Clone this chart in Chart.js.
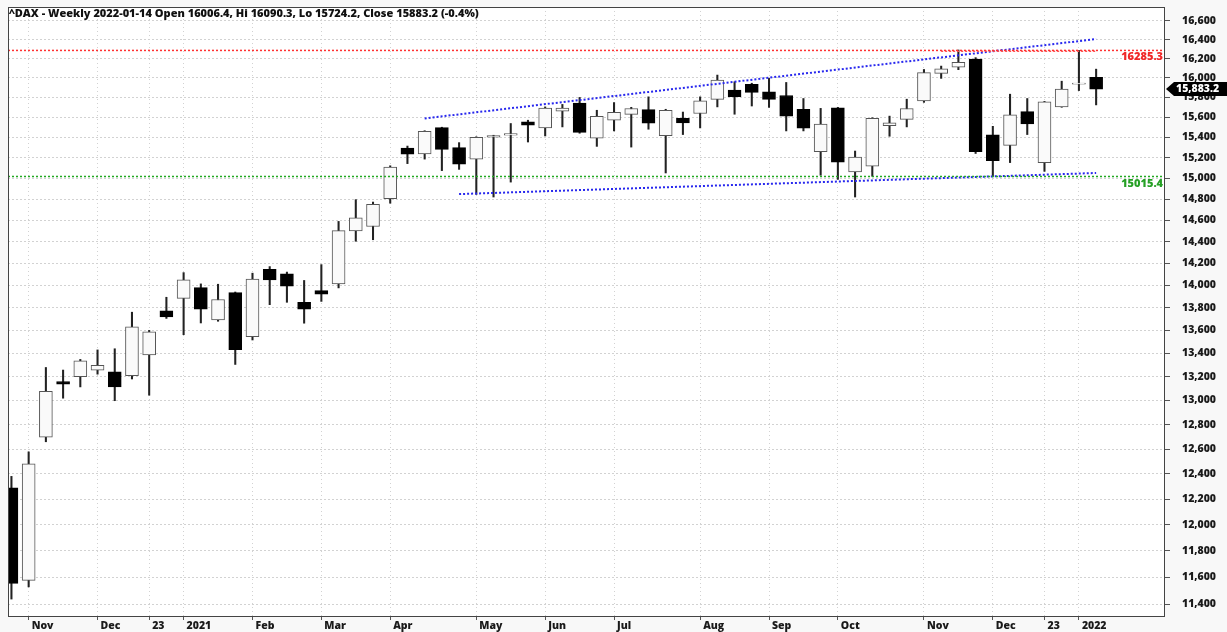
<!DOCTYPE html>
<html><head><meta charset="utf-8">
<script src="https://cdn.jsdelivr.net/npm/chart.js@4.4.0/dist/chart.umd.min.js"></script>
<style>html,body{margin:0;padding:0;background:#f8f8f8;overflow:hidden}</style>
</head><body>
<canvas id="c" width="1227" height="632"></canvas>
<script>
const titleText = '^DAX - Weekly 2022-01-14 Open 16006.4, Hi 16090.3, Lo 15724.2, Close 15883.2 (-0.4%)';

// weekly candles, Oct 30 2020 .. Jan 14 2022
const opens  = [12290,11578,12696,13159,13201,13257,13242,13209,13386,13773,13883,13979,13692,13934,13545,14145,14104,13848,13953,14013,14500,14540,14803,15292,15236,15496,15298,15185,15400,15420,15553,15493,15661,15742,15390,15570,15628,15677,15416,15588,15637,15780,15875,15933,15856,15820,15680,15259,15694,15060,15115,15516,15578,15765,16046,16112,16195,15423,15320,15657,15151,15704,15935,16006.4];
const highs  = [12380,12577,13279,13257,13348,13430,13440,13760,13600,13893,14115,14013,14010,13940,14110,14170,14120,14044,14188,14588,14794,14771,15120,15313,15465,15500,15347,15405,15420,15537,15570,15704,15729,15800,15670,15748,15700,15806,15680,15652,15806,16029,15960,15945,15995,15953,15789,15689,15700,15264,15595,15611,15782,16087,16122,16290,16210,15509,15833,15789,15760,15966,16285.3,16090.3];
const lows   = [11440,11530,12659,13019,13114,13222,12998,13181,13044,13705,13562,13665,13680,13305,13516,13827,13848,13663,13856,13977,14403,14417,14760,15141,15185,15073,15085,14844,14819,14962,15353,15413,15503,15440,15310,15463,15303,15480,15050,15427,15493,15704,15630,15713,15699,15463,15463,15028,14988,14819,15018,15410,15503,15750,15995,16085,15240,15020,15151,15427,15066,15700,15870,15724.2];
const closes = [11556,12480,13076,13137,13335,13298,13114,13630,13587,13719,14050,13787,13873,13433,14056,14050,13993,13786,13920,14502,14621,14749,15107,15234,15460,15280,15136,15400,15416,15437,15520,15693,15693,15448,15608,15650,15688,15540,15669,15544,15765,15977,15808,15852,15781,15610,15490,15531,15156,15206,15588,15543,15688,16054,16094,16160,15257,15170,15623,15532,15756,15885,15947,15883.2];

const xTickIndex  = [1,5,8,10,14,18,22,27,31,35,40,44,48,53,57,60,62];
const xTickLabels = ['Nov','Dec','23','2021','Feb','Mar','Apr','May','Jun','Jul','Aug','Sep','Oct','Nov','Dec','23','2022'];
const yTickValues = [11400,11600,11800,12000,12200,12400,12600,12800,13000,13200,13400,13600,13800,14000,14200,14400,14600,14800,15000,15200,15400,15600,15800,16000,16200,16400,16600];

const resistance = 16285.3;
const support = 15015.4;
const upperTrend = [{x:24, y:15588},{x:63, y:16405}];
const lowerTrend = [{x:26, y:14847},{x:63, y:15050}];
const topSegment = [{x:54, y:16278},{x:63, y:16278}];
const lastClose = 15883.2;

const X_MIN = -0.2, X_MAX = 67;
const FONT = '"Open Sans", "Noto Sans", sans-serif';
const W = '800';

const up = closes.map((c,i)=> c >= opens[i]);

const bgPlugin = {
  id:'bg',
  beforeDraw(chart){
    const {ctx, chartArea:a} = chart;
    ctx.save();
    ctx.fillStyle = '#f8f8f8';
    ctx.fillRect(0,0,chart.width,chart.height);
    ctx.fillStyle = '#ffffff';
    ctx.fillRect(a.left, a.top, a.right-a.left, a.bottom-a.top);
    ctx.restore();
  },
  afterDraw(chart){
    const {ctx, chartArea:a, scales} = chart;
    const y = scales.y;
    ctx.save();
    // frame
    ctx.strokeStyle = '#444';
    ctx.lineWidth = 1;
    ctx.strokeRect(a.left+0.5, a.top+0.5, a.right-a.left-1, a.bottom-a.top);
    // level labels
    ctx.font = W + ' 11px ' + FONT;
    ctx.textAlign = 'right';
    ctx.textBaseline = 'middle';
    ctx.fillStyle = '#f02828';
    ctx.fillText(String(resistance), a.right-2, y.getPixelForValue(resistance)+6.5);
    ctx.fillStyle = '#25a025';
    ctx.fillText(String(support), a.right-2, y.getPixelForValue(support)+7);
    // title
    ctx.font = W + ' 11px ' + FONT;
    ctx.textAlign = 'left';
    ctx.fillStyle = '#111';
    ctx.fillText(titleText, a.left+1, 13.5);
    // last price marker
    const py = Math.round(y.getPixelForValue(lastClose));
    ctx.fillStyle = '#000';
    ctx.beginPath();
    ctx.moveTo(a.right+1, py);
    ctx.lineTo(a.right+9, py-7);
    ctx.lineTo(chart.width, py-7);
    ctx.lineTo(chart.width, py+7);
    ctx.lineTo(a.right+9, py+7);
    ctx.closePath();
    ctx.fill();
    ctx.fillStyle = '#fff';
    ctx.font = W + ' 10.5px ' + FONT;
    ctx.fillText(lastClose.toLocaleString('en-US',{minimumFractionDigits:1}), a.right+11, py+0.5);
    ctx.restore();
  }
};

const dotted = (data, color, width, dash) => ({
  type:'line', data, borderColor:color, borderWidth:width, borderDash:dash,
  pointRadius:0, fill:false, tension:0, order:-1
});

new Chart(document.getElementById('c'), {
  type:'bar',
  data:{
    datasets:[
      { label:'body', data: opens.map((o,i)=>({x:i, y:[o, closes[i]]})),
        backgroundColor: up.map(u=> u ? '#fafafa' : '#000000'),
        borderColor: up.map(u=> u ? '#555555' : '#000000'),
        borderWidth:1, borderSkipped:false, barThickness:13, grouped:false, order:0 },
      { label:'wick', data: lows.map((l,i)=>({x:i, y:[l, highs[i]]})),
        backgroundColor:'#222222', borderWidth:0, barThickness:1.4, grouped:false, order:1 },
      dotted([{x:X_MIN,y:resistance},{x:X_MAX,y:resistance}], '#ff3030', 1.5, [2,2]),
      dotted(topSegment, '#ff5050', 1.5, [2,2]),
      dotted([{x:X_MIN,y:support},{x:X_MAX,y:support}], '#22a822', 1.5, [2,2]),
      dotted(upperTrend, '#2828ee', 2, [2,2]),
      dotted(lowerTrend, '#2828ee', 2, [2,2])
    ]
  },
  options:{
    responsive:false, animation:false, devicePixelRatio:1,
    layout:{padding:{left:8, top:7, right:0, bottom:0}},
    plugins:{legend:{display:false}, tooltip:{enabled:false}},
    scales:{
      x:{ type:'linear', position:'bottom', min:X_MIN, max:X_MAX, offset:false,
        afterBuildTicks: s => { s.ticks = xTickIndex.map(v=>({value:v})); },
        afterFit: s => { s.height = 16; s.paddingLeft = 0; s.paddingRight = 0; },
        ticks:{ autoSkip:false, maxRotation:0, align:'start', labelOffset:3, padding:0,
          color:'#1a1a1a', font:{family:FONT, size:10.5, weight:W},
          callback:(v,i)=> xTickLabels[i] },
        grid:{ offset:false, color:'#d2d2d2', lineWidth:1, drawTicks:true, tickLength:4, tickColor:'#555' },
        border:{ display:false, dash:[1,3] }
      },
      y:{ type:'logarithmic', position:'right', min:11316, max:16747,
        afterBuildTicks: s => { s.ticks = yTickValues.map(v=>({value:v})); },
        afterFit: s => { s.width = 62; s.paddingTop = 0; s.paddingBottom = 0; },
        ticks:{ autoSkip:false, padding:12, color:'#1a1a1a',
          font:{family:FONT, size:10.5, weight:W},
          callback: v => Number(v).toLocaleString('en-US') },
        grid:{ color:'#d2d2d2', lineWidth:1, drawTicks:true, tickLength:5, tickColor:'#555' },
        border:{ display:false, dash:[2,2] }
      }
    }
  },
  plugins:[bgPlugin]
});
</script>
</body></html>
